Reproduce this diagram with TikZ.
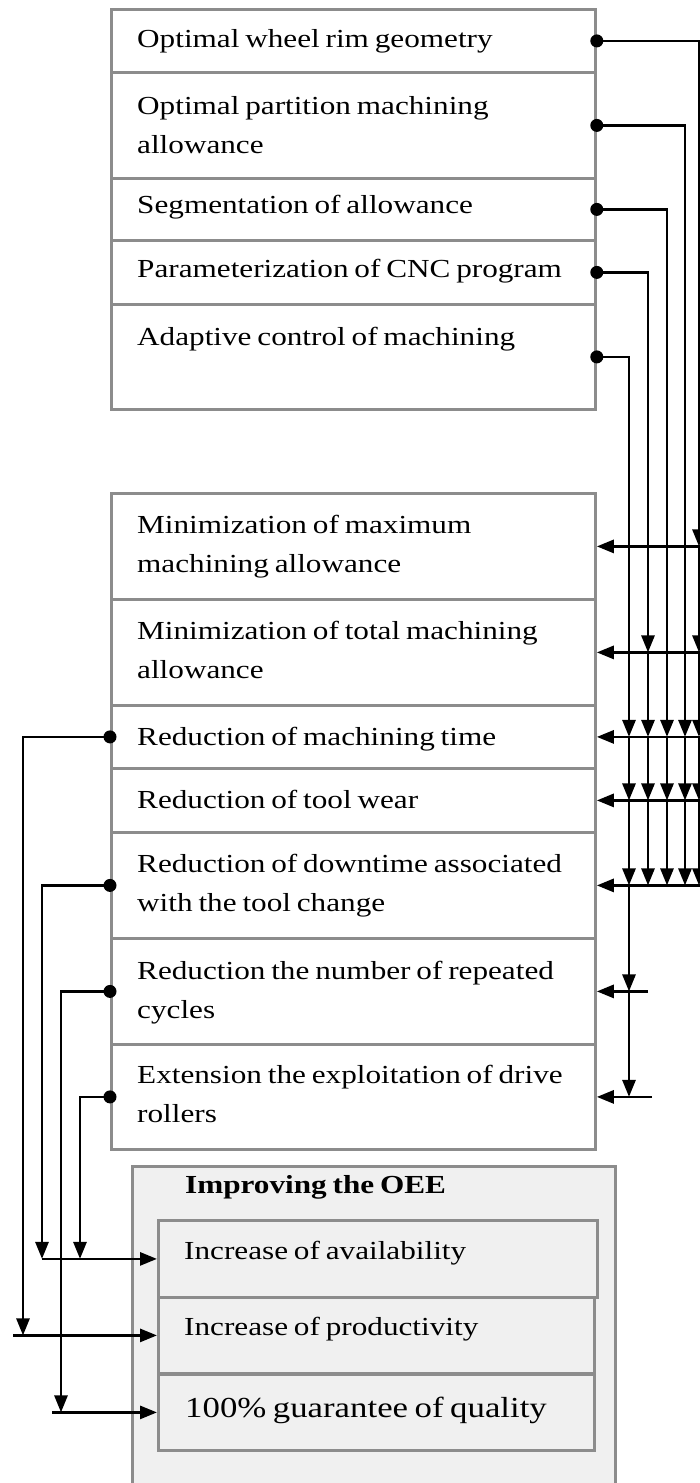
\documentclass[tikz,border=0pt]{standalone}
\usepackage{fontspec}
\setmainfont{Liberation Serif}[FakeStretch=1.2,WordSpace=0.75]
\usetikzlibrary{arrows.meta}
\definecolor{boxgray}{HTML}{8C8C8C}
\definecolor{oeefill}{HTML}{F0F0F0}
\begin{document}
\begin{tikzpicture}[x=1pt,y=-1pt,
  rowbox/.style={draw=boxgray, line width=2.8pt, anchor=north west, inner sep=0pt, minimum width=484pt},
  oeebox/.style={draw=boxgray, fill=oeefill, line width=2.8pt, anchor=north west, inner sep=0pt},
  txt/.style={anchor=base west, inner sep=0pt, align=left, font=\fontsize{26}{39}\selectfont},
  conn/.style={line width=2.8pt, black},
  arr/.style={-{Triangle[length=17pt,width=13pt]}},
  dotmark/.style={fill=black}
]
\useasboundingbox (0,0) rectangle (700,1483);
\clip (0,0) rectangle (700,1483);

% top box rows
\node[rowbox, minimum height=63pt]  (t1) at (110,8)   {};
\node[rowbox, minimum height=106pt] (t2) at (110,71)  {};
\node[rowbox, minimum height=62pt]  (t3) at (110,177) {};
\node[rowbox, minimum height=64pt]  (t4) at (110,239) {};
\node[rowbox, minimum height=105pt] (t5) at (110,303) {};

% middle box rows
\node[rowbox, minimum height=106pt] (m1) at (110,492)  {};
\node[rowbox, minimum height=106pt] (m2) at (110,598)  {};
\node[rowbox, minimum height=63pt]  (m3) at (110,704)  {};
\node[rowbox, minimum height=64pt]  (m4) at (110,767)  {};
\node[rowbox, minimum height=106pt] (m5) at (110,831)  {};
\node[rowbox, minimum height=106pt] (m6) at (110,937)  {};
\node[rowbox, minimum height=105pt] (m7) at (110,1043) {};

% OEE boxes
\node[oeebox, minimum width=483pt, minimum height=335pt] (oee) at (131,1165) {};
\node[oeebox, minimum width=439pt, minimum height=77pt] (avail) at (157,1219) {};
\node[oeebox, minimum width=436pt, minimum height=76pt] (prod) at (157,1296) {};
\node[oeebox, minimum width=436pt, minimum height=76pt] (qual) at (157,1373) {};

% texts (base anchor = baseline of the last line)
\node[txt] (t1x) at (137,47)  {Optimal wheel rim geometry};
\node[txt] (t2x) at (137,153) {Optimal partition machining\\allowance};
\node[txt] (t3x) at (137,213) {Segmentation of allowance};
\node[txt] (t4x) at (137,277) {Parameterization of CNC program};
\node[txt] (t5x) at (137,345) {Adaptive control of machining};

\node[txt] (m1x) at (137,572)  {Minimization of maximum\\machining allowance};
\node[txt] (m2x) at (137,678)  {Minimization of total machining\\allowance};
\node[txt] (m3x) at (137,745)  {Reduction of machining time};
\node[txt] (m4x) at (137,808)  {Reduction of tool wear};
\node[txt] (m5x) at (137,911)  {Reduction of downtime associated\\with the tool change};
\node[txt] (m6x) at (137,1018) {Reduction the number of repeated\\cycles};
\node[txt] (m7x) at (137,1122) {Extension the exploitation of drive\\rollers};

\node[txt, font=\fontsize{26}{39}\selectfont\bfseries] (oeex) at (185,1193) {Improving the OEE};
\node[txt] (availx) at (184,1259) {Increase of availability};
\node[txt] (prodx)  at (184,1335) {Increase of productivity};
\node[txt, font=\fontsize{29}{39}\selectfont] (qualx) at (185,1417) {100\% guarantee of quality};

% vertical line positions
\coordinate (va) at (629,0);
\coordinate (vb) at (648,0);
\coordinate (vc) at (667,0);
\coordinate (vd) at (685,0);
\coordinate (ve) at (699,0);
\coordinate (re) at (700,0);
\coordinate (h6) at (648,0);
\coordinate (h7) at (652,0);
\coordinate (la) at (23,0);
\coordinate (lb) at (42,0);
\coordinate (lc) at (61,0);
\coordinate (ld) at (80,0);
\coordinate (lp) at (13,0);
\coordinate (lq) at (52,0);

% right side: horizontal arrows into middle rows
\foreach \m in {m1,m2,m3,m4,m5}{
  \draw[conn,arr] (re |- \m.east) -- (\m.east);
}
\draw[conn,arr] (h6 |- m6.east) -- (m6.east);
\draw[conn,arr] (h7 |- m7.east) -- (m7.east);

% from Optimal wheel rim geometry
\draw[conn,arr] (t1.east) -| (ve |- m1.east);
\draw[conn,arr] (ve |- m1.east) -- (ve |- m2.east);
\draw[conn,arr] (ve |- m2.east) -- (ve |- m3.east);
\draw[conn,arr] (ve |- m3.east) -- (ve |- m4.east);
\draw[conn,arr] (ve |- m4.east) -- (ve |- m5.east);

% from Optimal partition machining allowance
\draw[conn,arr] (t2.east) -| (vd |- m3.east);
\draw[conn,arr] (vd |- m3.east) -- (vd |- m4.east);
\draw[conn,arr] (vd |- m4.east) -- (vd |- m5.east);

% from Segmentation of allowance
\draw[conn,arr] (t3.east) -| (vc |- m3.east);
\draw[conn,arr] (vc |- m3.east) -- (vc |- m4.east);
\draw[conn,arr] (vc |- m4.east) -- (vc |- m5.east);

% from Parameterization of CNC program
\draw[conn,arr] (t4.east) -| (vb |- m2.east);
\draw[conn,arr] (vb |- m2.east) -- (vb |- m3.east);
\draw[conn,arr] (vb |- m3.east) -- (vb |- m4.east);
\draw[conn,arr] (vb |- m4.east) -- (vb |- m5.east);

% from Adaptive control of machining
\draw[conn,arr] (t5.east) -| (va |- m3.east);
\draw[conn,arr] (va |- m3.east) -- (va |- m4.east);
\draw[conn,arr] (va |- m4.east) -- (va |- m5.east);
\draw[conn,arr] (va |- m5.east) -- (va |- m6.east);
\draw[conn,arr] (va |- m6.east) -- (va |- m7.east);

% left side connectors
\draw[conn,arr] (m3.west) -| (la |- prod.west);
\draw[conn,arr] (lp |- prod.west) -- (prod.west);
\draw[conn,arr] (m5.west) -| (lb |- avail.west);
\draw[conn,arr] (lb |- avail.west) -- (avail.west);
\draw[conn,arr] (m6.west) -| (lc |- qual.west);
\draw[conn,arr] (lq |- qual.west) -- (qual.west);
\draw[conn,arr] (m7.west) -| (ld |- avail.west);

% dots
\foreach \n in {t1,t2,t3,t4,t5}{
  \fill[dotmark] (\n.east) circle (6.5pt);
}
\foreach \n in {m3,m5,m6,m7}{
  \fill[dotmark] (\n.west) circle (6.5pt);
}
\end{tikzpicture}
\end{document}
